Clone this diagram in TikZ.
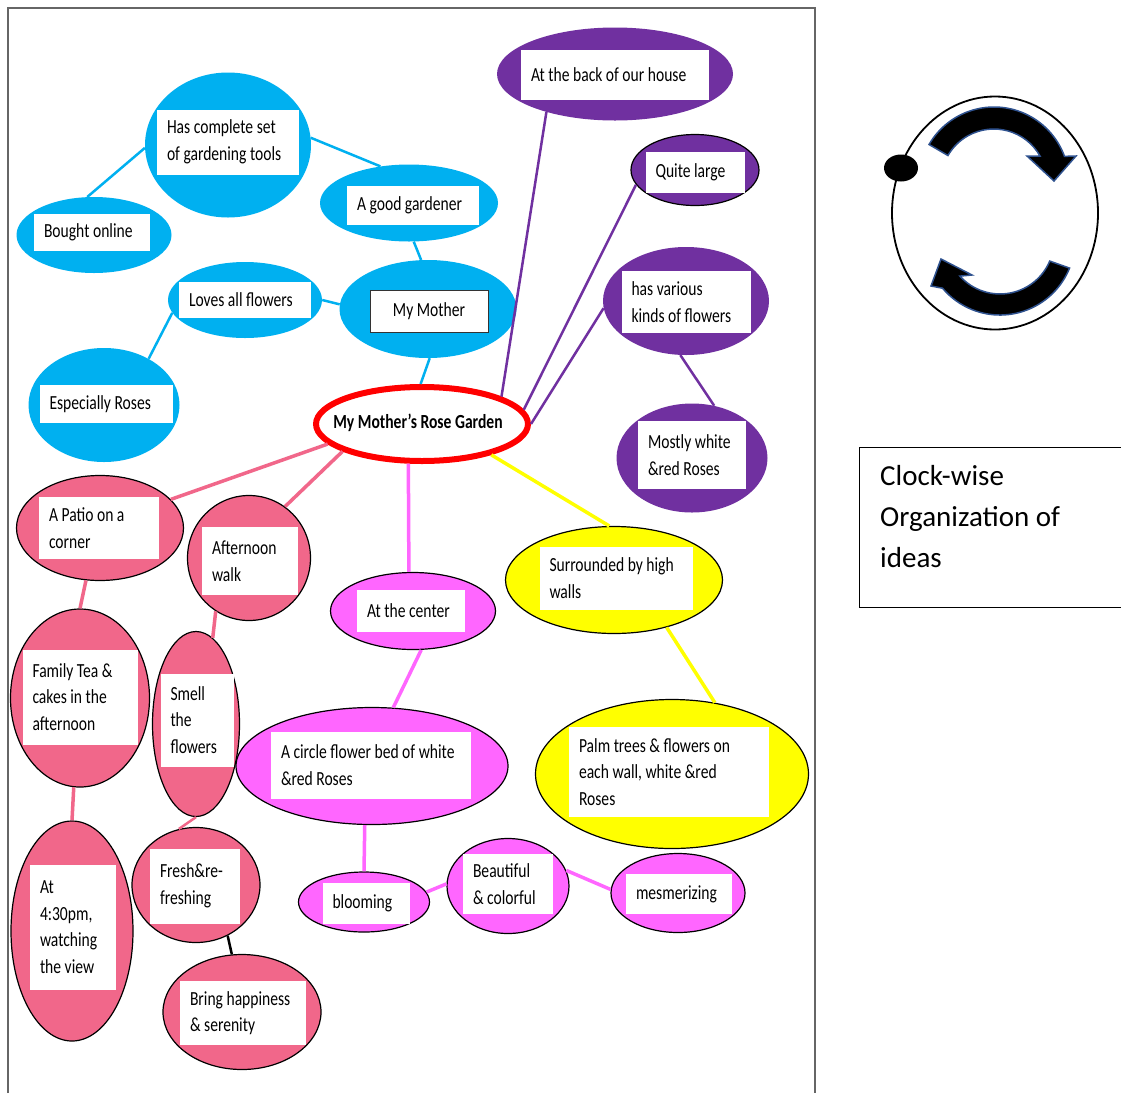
\documentclass[tikz,border=0pt]{standalone}
\usepackage{fontspec}
\setmainfont{Carlito}
\newfontfamily\bubblefont{Carlito}[FakeStretch=0.78]
\usepackage{tikz}
\usetikzlibrary{shapes.geometric}
\definecolor{mmblue}{RGB}{0,176,240}
\definecolor{mmpurple}{RGB}{112,48,160}
\definecolor{mmpink}{RGB}{241,103,138}
\definecolor{mmmagenta}{RGB}{255,102,255}
\definecolor{mmyellow}{RGB}{255,255,0}
\definecolor{mmred}{RGB}{255,0,0}
\definecolor{arrowblue}{RGB}{47,82,143}
\hyphenpenalty=10000
\exhyphenpenalty=10000

\begin{document}
\begin{tikzpicture}[x=1pt,y=-1pt,
  bubble/.style={ellipse,inner sep=0pt},
  bluebub/.style={bubble,fill=mmblue},
  purplebub/.style={bubble,fill=mmpurple},
  pinkbub/.style={bubble,fill=mmpink,draw=black,line width=1.2pt},
  magbub/.style={bubble,fill=mmmagenta,draw=black,line width=1.2pt},
  yellowbub/.style={bubble,fill=mmyellow,draw=black,line width=1.2pt},
  txtbox/.style={rectangle,fill=white,inner xsep=10pt,inner ysep=0pt,align=flush left,
    font=\bubblefont\fontsize{20}{26.5}\selectfont},
  blueline/.style={draw=mmblue,line width=2.5pt},
  purpleline/.style={draw=mmpurple,line width=2.5pt},
  pinkline/.style={draw=mmpink,line width=3.5pt},
  magline/.style={draw=mmmagenta,line width=3.5pt},
  yellowline/.style={draw=mmyellow,line width=3.5pt},
  turnarrow/.style={fill=black,draw=arrowblue,line width=1.5pt}]
\useasboundingbox (0,0) rectangle (1121,1093);
\fill[white] (0,0) rectangle (1121,1093);
\draw[black!60,line width=1.5pt] (8,1093) -- (8,8) -- (815,8) -- (815,1093);

\node[ellipse,draw=mmred,fill=white,line width=6pt,minimum width=212pt,minimum height=74pt,inner sep=0pt] (garden) at (422,424) {};
\node[inner sep=0pt,font=\bubblefont\bfseries\fontsize{20}{24}\selectfont] (garden-t) at (418,423) {My Mother’s Rose Garden};

\node[bluebub,minimum width=166pt,minimum height=145pt] (tools) at (228,145) {};
\node[txtbox,text width=122pt,minimum height=65pt] (tools-t) at (228,142) {Has complete set\\of gardening tools};
\node[bluebub,minimum width=155pt,minimum height=76pt] (bought) at (94,235) {};
\node[txtbox,text width=96pt,minimum height=37pt] (bought-t) at (92,232) {Bought online};
\node[bluebub,minimum width=178pt,minimum height=77pt] (gardener) at (409,203) {};
\node[txtbox,text width=112pt,minimum height=39pt] (gardener-t) at (413,205) {A good gardener};
\node[bluebub,minimum width=177pt,minimum height=98pt] (mother) at (428,309) {};
\node[txtbox,draw=black!80,line width=0.8pt,align=flush center,text width=98pt,minimum height=42pt] (mother-t) at (429,311) {My Mother};
\node[bluebub,minimum width=154pt,minimum height=76pt] (loves) at (245,300) {};
\node[txtbox,text width=112pt,minimum height=36pt] (loves-t) at (245,300) {Loves all flowers};
\node[bluebub,minimum width=151pt,minimum height=114pt] (roses) at (104,405) {};
\node[txtbox,text width=113pt,minimum height=38pt] (roses-t) at (106,404) {Especially Roses};

\node[purplebub,minimum width=236pt,minimum height=93pt] (back) at (615,74) {};
\node[txtbox,text width=168pt,minimum height=50pt] (back-t) at (615,75) {At the back of our house};
\node[purplebub,draw=black,line width=1.2pt,minimum width=128pt,minimum height=71pt] (quite) at (695,170) {};
\node[txtbox,text width=79pt,minimum height=41pt] (quite-t) at (695,172) {Quite large};
\node[purplebub,minimum width=166pt,minimum height=108pt] (various) at (686,301) {};
\node[txtbox,text width=109pt,minimum height=62pt] (various-t) at (686,302) {has various\\kinds of flowers};
\node[purplebub,minimum width=151pt,minimum height=109pt] (mostly) at (692,458) {};
\node[txtbox,text width=88pt,minimum height=68pt] (mostly-t) at (692,455) {Mostly white\\\&red Roses};

\node[pinkbub,minimum width=167pt,minimum height=105pt] (patio) at (100,528) {};
\node[txtbox,text width=100pt,minimum height=62pt] (patio-t) at (99,528) {A Patio on a\\corner};
\node[pinkbub,minimum width=123pt,minimum height=125pt] (afternoon) at (249,558) {};
\node[txtbox,text width=76pt,minimum height=68pt] (afternoon-t) at (250,561) {Afternoon\\walk};
\node[pinkbub,minimum width=139pt,minimum height=178pt] (family) at (80,698) {};
\node[txtbox,text width=95pt,minimum height=95pt] (family-t) at (80,697) {Family Tea \&\\cakes in the\\afternoon};
\node[pinkbub,minimum width=87pt,minimum height=185pt] (smell) at (196,724) {};
\node[txtbox,text width=53pt,minimum height=93pt] (smell-t) at (197,720) {Smell\\the\\flowers};
\node[pinkbub,minimum width=122pt,minimum height=220pt] (view) at (72,931) {};
\node[txtbox,text width=66pt,minimum height=125pt] (view-t) at (73,927) {At\\4:30pm,\\watching\\the view};
\node[pinkbub,minimum width=128pt,minimum height=115pt] (fresh) at (196,885) {};
\node[txtbox,text width=70pt,minimum height=75pt] (fresh-t) at (195,886) {Fresh\&re-\\freshing};
\node[pinkbub,minimum width=158pt,minimum height=115pt] (happy) at (242,1012) {};
\node[txtbox,text width=106pt,minimum height=64pt] (happy-t) at (243,1013) {Bring happiness\\\& serenity};

\node[magbub,minimum width=165pt,minimum height=77pt] (center) at (413,611) {};
\node[txtbox,text width=88pt,minimum height=42pt] (center-t) at (411,611) {At the center};
\node[magbub,minimum width=272pt,minimum height=117pt] (bed) at (372,766) {};
\node[txtbox,text width=180pt,minimum height=67pt] (bed-t) at (371,765) {A circle flower bed of white\\\&red Roses};
\node[magbub,minimum width=131pt,minimum height=60pt] (blooming) at (364,902) {};
\node[txtbox,text width=67pt,minimum height=41pt] (blooming-t) at (366,903) {blooming};
\node[magbub,minimum width=122pt,minimum height=95pt] (beautiful) at (508,886) {};
\node[txtbox,text width=70pt,minimum height=60pt] (beautiful-t) at (508,884) {Beautiful\\\& colorful};
\node[magbub,minimum width=134pt,minimum height=79pt] (mes) at (678,893) {};
\node[txtbox,text width=86pt,minimum height=40pt] (mes-t) at (679,894) {mesmerizing};

\node[yellowbub,minimum width=217pt,minimum height=107pt] (walls) at (614,580) {};
\node[txtbox,text width=133pt,minimum height=63pt] (walls-t) at (616,578) {Surrounded by high\\walls};
\node[yellowbub,minimum width=273pt,minimum height=149pt] (palm) at (672,774) {};
\node[txtbox,text width=180pt,minimum height=90pt] (palm-t) at (669,772) {Palm trees \& flowers on\\each wall, white \&red\\Roses};

\draw[blueline] (tools.182) -- (bought.100);
\draw[blueline] (tools.5) -- (gardener.128);
\draw[blueline] (gardener.-83) -- (mother.98);
\draw[blueline] (loves.0) -- (mother.177);
\draw[blueline] (loves.190) -- (roses.46);
\draw[blueline] (mother.-88) -- (garden.92);

\draw[purpleline] (back.209) -- (garden.19);
\draw[purpleline] (quite.194) -- (garden.8);
\draw[purpleline] (various.185) -- (garden.0);
\draw[purpleline] (various.-96) -- (mostly.67);

\draw[pinkline] (garden.192) -- (patio.22);
\draw[pinkline] (garden.199) -- (afternoon.55);
\draw[pinkline] (patio.-105) -- (family.90);
\draw[pinkline] (afternoon.-122) -- (smell.79);
\draw[pinkline] (family.-94) -- (view.90);
\draw[pinkline,line width=2.5pt] (smell.-90) -- (fresh.107);
\draw[black,line width=2.5pt] (fresh.-58) -- (happy.100);

\draw[magline] (garden.-109) -- (center.96);
\draw[magline] (center.-78) -- (bed.70);
\draw[magline] (bed.-97) -- (blooming.90);
\draw[magline] (blooming.9) -- (beautiful.178);
\draw[magline] (beautiful.15) -- (mes.177);

\draw[yellowline] (garden.-24) -- (walls.95);
\draw[yellowline] (walls.-42) -- (palm.59);

\node[ellipse,draw=black,line width=1.8pt,minimum width=206pt,minimum height=233pt,inner sep=0pt] (clock) at (995,213) {};
\node[ellipse,fill=black,minimum width=34pt,minimum height=27pt,inner sep=0pt] (dot) at (901,168) {};
\draw[turnarrow] (994,182) ++(-150:75) arc[start angle=-150,end angle=-20,radius=75]
  -- (1076,156) -- (1054,181) -- (1027,156) -- (1040,156)
  arc[start angle=-29.4,end angle=-150,radius=53] -- cycle;
\draw[turnarrow] (1000,240) ++(22:75) arc[start angle=22,end angle=140,radius=75]
  -- (931,286) -- (941,259) -- (972,275) -- (959.9,276.1)
  arc[start angle=138,end angle=23,radius=54] -- cycle;

\draw[line width=1pt] (1121,447) -- (859,447) -- (859,607) -- (1121,607);
\node[anchor=west,inner sep=0pt,align=left,font=\fontsize{29}{41}\selectfont] (legend) at (880,517) {Clock-wise\\Organization of\\ideas};
\end{tikzpicture}
\end{document}
